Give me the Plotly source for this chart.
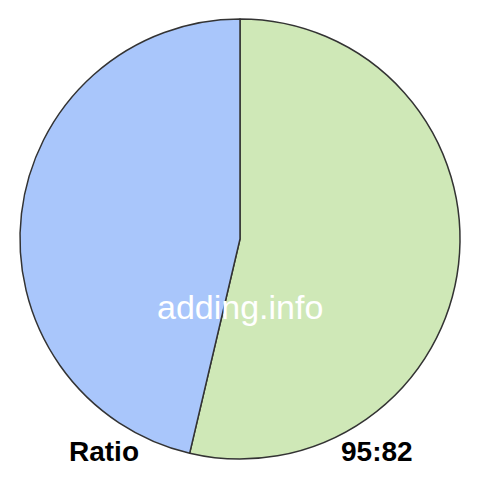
import plotly.graph_objects as go

labels = ["95", "82"]
values = [95, 82]
colors = ["#cfe8b7", "#a9c6fb"]

# the page body has an 8px margin, so positions are shifted up/left by 8px
off = 8

fig = go.Figure(go.Pie(
    labels=labels, values=values, sort=False, direction="clockwise", rotation=0,
    marker=dict(colors=colors, line=dict(color="#333333", width=1.5)),
    textinfo="none", hoverinfo="label+value",
    domain=dict(x=[(20 - off) / 480, (460 - off) / 480],
                y=[(21 + off) / 480, (461 + off) / 480]),
))

font = "Liberation Sans, Arial"
fig.add_annotation(text="adding.info", x=(240 - off) / 480, y=1 - (307 - off) / 480,
                   xref="paper", yref="paper", xanchor="center", yanchor="middle",
                   showarrow=False, font=dict(family=font, size=34, color="white"))
fig.add_annotation(text="<b>Ratio</b>", x=(104 - off) / 480, y=1 - (451 - off) / 480,
                   xref="paper", yref="paper", xanchor="center", yanchor="middle",
                   showarrow=False, font=dict(family=font, size=28, color="black"))
fig.add_annotation(text="<b>95:82</b>", x=(377 - off) / 480, y=1 - (451 - off) / 480,
                   xref="paper", yref="paper", xanchor="center", yanchor="middle",
                   showarrow=False, font=dict(family=font, size=28, color="black"))

fig.update_layout(width=480, height=480, margin=dict(l=0, r=0, t=0, b=0),
                  showlegend=False, paper_bgcolor="white")

fig.write_html("out.html")
